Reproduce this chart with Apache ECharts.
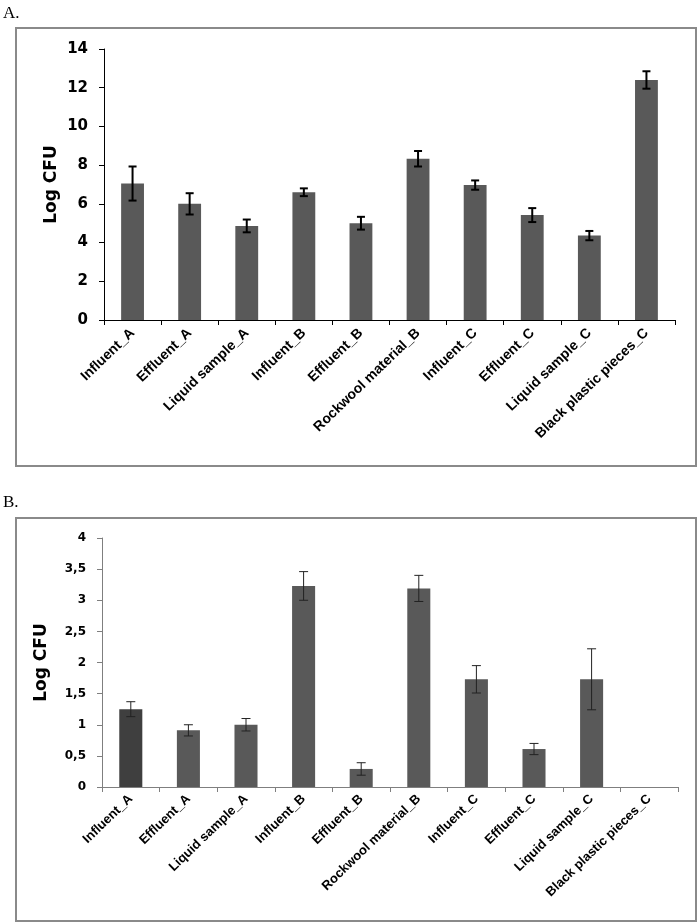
<!DOCTYPE html>
<html>
<head>
<meta charset="utf-8">
<script src="https://cdn.jsdelivr.net/npm/echarts@6/dist/echarts.min.js"></script>
<style>html,body{margin:0;padding:0;background:#fff}#c{width:700px;height:923px}</style>
</head>
<body>
<div id="c"></div>
<script>
var categories = ['Influent_A','Effluent_A','Liquid sample_A','Influent_B','Effluent_B','Rockwool material_B','Influent_C','Effluent_C','Liquid sample_C','Black plastic pieces_C'];
var valuesA = [7.05, 6.0, 4.86, 6.6, 5.0, 8.33, 6.97, 5.42, 4.36, 12.4];
var errorsA = [0.88, 0.55, 0.33, 0.2, 0.33, 0.4, 0.24, 0.36, 0.24, 0.45];
var valuesB = [1.25, 0.91, 1.0, 3.23, 0.29, 3.19, 1.73, 0.61, 1.73, 0];
var errorsB = [0.12, 0.09, 0.1, 0.23, 0.1, 0.21, 0.22, 0.09, 0.49, 0];
var yTicksA = [0, 2, 4, 6, 8, 10, 12, 14];
var yTicksB = ['0', '0,5', '1', '1,5', '2', '2,5', '3', '3,5', '4'];

var chart = echarts.init(document.getElementById('c'), null, {renderer: 'canvas'});

function errData(vals, errs) {
  return vals.map(function (v, i) { return [i, v - errs[i], v + errs[i]]; });
}
function errRender(capHalf, lw, color) {
  return function (params, api) {
    var lo = api.value(1), hi = api.value(2);
    if (hi - lo <= 0) return null;
    var pLo = api.coord([api.value(0), lo]);
    var pHi = api.coord([api.value(0), hi]);
    var x = pLo[0];
    var st = {stroke: color, lineWidth: lw};
    return {type: 'group', children: [
      {type: 'line', shape: {x1: x, y1: pHi[1], x2: x, y2: pLo[1]}, style: st},
      {type: 'line', shape: {x1: x - capHalf, y1: pHi[1], x2: x + capHalf, y2: pHi[1]}, style: st},
      {type: 'line', shape: {x1: x - capHalf, y1: pLo[1], x2: x + capHalf, y2: pLo[1]}, style: st}
    ]};
  };
}

var xAxisBase = function (gi, fs, mg, lineColor) {
  return {
    type: 'category', gridIndex: gi, data: categories,
    axisLine: {lineStyle: {color: lineColor, width: 1}},
    axisTick: {show: true, length: 5, lineStyle: {color: lineColor}},
    axisLabel: {rotate: 44, margin: mg, interval: 0, color: '#000', fontFamily: 'Liberation Sans, Arial', fontWeight: 'bold', fontSize: fs}
  };
};

var option = {
  animation: false,
  graphic: [
    {type: 'rect', shape: {x: 16, y: 28, width: 680, height: 438}, style: {fill: 'none', stroke: '#8a8a8a', lineWidth: 2}},
    {type: 'rect', shape: {x: 16, y: 518, width: 680, height: 403}, style: {fill: 'none', stroke: '#8a8a8a', lineWidth: 2}},
    {type: 'text', left: 3, top: 5, style: {text: 'A.', font: '17px "Liberation Serif", "DejaVu Serif", serif', fill: '#000'}},
    {type: 'text', left: 3, top: 494, style: {text: 'B.', font: '17px "Liberation Serif", "DejaVu Serif", serif', fill: '#000'}}
  ],
  grid: [
    {left: 104, top: 49, width: 571, height: 271},
    {left: 102, top: 538, width: 576, height: 249}
  ],
  xAxis: [xAxisBase(0, 14, 11, '#000'), xAxisBase(1, 13, 10, '#7f7f7f')],
  yAxis: [
    {
      type: 'value', gridIndex: 0, min: 0, max: 14, interval: 2,
      name: 'Log CFU', nameLocation: 'middle', nameGap: 44, nameMoveOverlap: false,
      nameTextStyle: {fontFamily: 'DejaVu Sans, Verdana', fontWeight: 'bold', fontSize: 17, color: '#000'},
      axisLine: {show: true, lineStyle: {color: '#000'}},
      axisTick: {show: true, length: 5, lineStyle: {color: '#000'}},
      splitLine: {show: false},
      axisLabel: {margin: 16, color: '#000', fontFamily: 'DejaVu Sans, Verdana', fontWeight: 'bold', fontSize: 15,
        formatter: function (v) { return String(yTicksA[Math.round(v / 2)]); }}
    },
    {
      type: 'value', gridIndex: 1, min: 0, max: 4, interval: 0.5,
      name: 'Log CFU', nameLocation: 'middle', nameGap: 52, nameMoveOverlap: false,
      nameTextStyle: {fontFamily: 'DejaVu Sans, Verdana', fontWeight: 'bold', fontSize: 17, color: '#000'},
      axisLine: {show: true, lineStyle: {color: '#7f7f7f'}},
      axisTick: {show: true, length: 5, lineStyle: {color: '#7f7f7f'}},
      splitLine: {show: false},
      axisLabel: {margin: 16, color: '#000', fontFamily: 'DejaVu Sans, Verdana', fontWeight: 'bold', fontSize: 12,
        formatter: function (v) { return yTicksB[Math.round(v * 2)]; }}
    }
  ],
  series: [
    {type: 'bar', xAxisIndex: 0, yAxisIndex: 0, data: valuesA, barWidth: '40%', itemStyle: {color: '#595959'}},
    {type: 'custom', xAxisIndex: 0, yAxisIndex: 0, data: errData(valuesA, errorsA), renderItem: errRender(4, 2, '#000'), z: 5},
    {type: 'bar', xAxisIndex: 1, yAxisIndex: 1, data: valuesB, barWidth: '40%',
      itemStyle: {color: function (p) { return p.dataIndex === 0 ? '#3f3f3f' : '#595959'; }}},
    {type: 'custom', xAxisIndex: 1, yAxisIndex: 1, data: errData(valuesB, errorsB), renderItem: errRender(4.5, 1, '#222'), z: 5}
  ]
};
chart.setOption(option);
</script>
</body>
</html>
